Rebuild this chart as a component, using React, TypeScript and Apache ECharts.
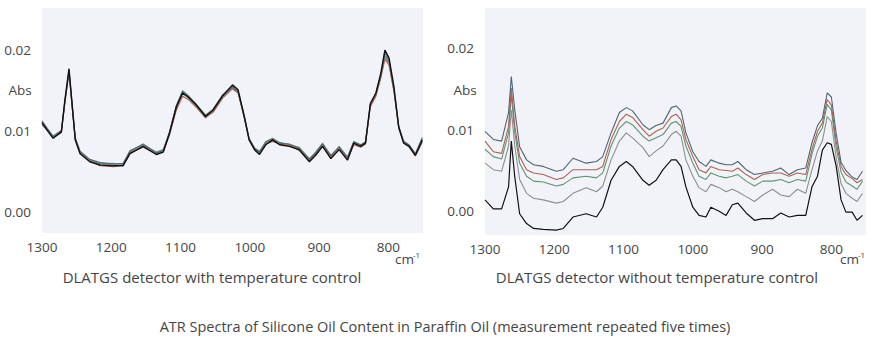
import React, { useEffect, useRef } from "react";
import * as echarts from "echarts";

// ---- Tick labels ----
const xTicks = [1300, 1200, 1100, 1000, 900, 800];
const yTicks = [0, 0.01, 0.02];

// ---- Left chart: with temperature control ----
const wnL = [1300,1284,1272,1267,1261,1257,1252,1245,1231,1216,1197,1183,1173,1154,1135,1125,1116,1106,1097,1089,1077,1064,1053,1039,1025,1017,1008,1001,993,986,977,967,957,943,929,914,905,895,883,871,859,850,840,833,826,818,811,805,799,792,785,778,770,761,751];
const slateL = [0.0112,0.0093,0.0100,0.0137,0.0175,0.0137,0.0091,0.0075,0.0065,0.0061,0.0059,0.0060,0.0075,0.0084,0.0073,0.0076,0.0099,0.0131,0.0149,0.0143,0.0131,0.0119,0.0125,0.0143,0.0155,0.0149,0.0117,0.0090,0.0078,0.0074,0.0086,0.0090,0.0085,0.0084,0.0079,0.0065,0.0073,0.0084,0.0070,0.0080,0.0068,0.0087,0.0083,0.0086,0.0133,0.0146,0.0169,0.0196,0.0187,0.0152,0.0104,0.0087,0.0083,0.0072,0.0092];
const redL = [0.0108,0.0092,0.0098,0.0134,0.0172,0.0134,0.0090,0.0073,0.0063,0.0057,0.0056,0.0058,0.0073,0.0080,0.0072,0.0074,0.0095,0.0126,0.0143,0.0139,0.0129,0.0117,0.0123,0.0141,0.0152,0.0147,0.0116,0.0090,0.0078,0.0073,0.0084,0.0087,0.0084,0.0082,0.0078,0.0064,0.0071,0.0082,0.0068,0.0079,0.0066,0.0083,0.0080,0.0084,0.0130,0.0143,0.0165,0.0189,0.0181,0.0149,0.0103,0.0086,0.0080,0.0069,0.0086];
const greenL = [0.0111,0.0094,0.0101,0.0136,0.0174,0.0136,0.0092,0.0074,0.0064,0.0060,0.0060,0.0059,0.0076,0.0083,0.0074,0.0077,0.0098,0.0132,0.0150,0.0144,0.0133,0.0120,0.0127,0.0145,0.0154,0.0148,0.0119,0.0091,0.0079,0.0075,0.0087,0.0091,0.0086,0.0083,0.0080,0.0066,0.0074,0.0085,0.0069,0.0081,0.0067,0.0086,0.0082,0.0087,0.0132,0.0145,0.0168,0.0193,0.0185,0.0151,0.0106,0.0088,0.0082,0.0071,0.0090];
const grayL = [0.0113,0.0092,0.0100,0.0136,0.0173,0.0135,0.0090,0.0073,0.0064,0.0060,0.0058,0.0058,0.0074,0.0082,0.0072,0.0075,0.0097,0.0129,0.0146,0.0141,0.0130,0.0116,0.0124,0.0142,0.0153,0.0148,0.0118,0.0089,0.0076,0.0072,0.0085,0.0088,0.0084,0.0082,0.0076,0.0063,0.0072,0.0083,0.0067,0.0078,0.0065,0.0084,0.0082,0.0085,0.0131,0.0144,0.0167,0.0191,0.0183,0.0150,0.0104,0.0086,0.0081,0.0070,0.0088];
const blackL = [0.0110,0.0091,0.0099,0.0138,0.0177,0.0138,0.0089,0.0072,0.0062,0.0058,0.0057,0.0057,0.0072,0.0081,0.0071,0.0074,0.0097,0.0130,0.0147,0.0142,0.0132,0.0118,0.0126,0.0144,0.0157,0.0151,0.0118,0.0089,0.0077,0.0071,0.0083,0.0089,0.0083,0.0081,0.0077,0.0062,0.0070,0.0081,0.0066,0.0077,0.0064,0.0085,0.0081,0.0085,0.0134,0.0147,0.0171,0.0200,0.0190,0.0155,0.0105,0.0085,0.0081,0.0070,0.0089];

// ---- Right chart: without temperature control ----
const wnR = [1300,1288,1276,1266,1262,1257,1250,1240,1230,1216,1197,1187,1173,1154,1139,1130,1118,1106,1096,1087,1072,1063,1053,1043,1031,1024,1017,1010,1000,991,981,974,962,952,943,935,923,911,899,885,873,861,849,837,828,820,813,806,800,793,786,779,770,763,755];
const slateR = [0.0098,0.0088,0.0086,0.0121,0.0165,0.0124,0.0079,0.0063,0.0057,0.0055,0.0049,0.0051,0.0065,0.0059,0.0061,0.0067,0.0096,0.0121,0.0127,0.0123,0.0106,0.0100,0.0105,0.0108,0.0127,0.0129,0.0123,0.0096,0.0073,0.0061,0.0055,0.0063,0.0059,0.0057,0.0057,0.0061,0.0051,0.0045,0.0047,0.0049,0.0053,0.0045,0.0051,0.0053,0.0084,0.0105,0.0114,0.0145,0.0140,0.0095,0.0060,0.0050,0.0042,0.0039,0.0049];
const redR = [0.0086,0.0073,0.0071,0.0104,0.0151,0.0104,0.0067,0.0051,0.0047,0.0045,0.0039,0.0041,0.0051,0.0051,0.0051,0.0055,0.0088,0.0110,0.0119,0.0115,0.0100,0.0092,0.0098,0.0102,0.0116,0.0119,0.0112,0.0088,0.0067,0.0051,0.0047,0.0055,0.0051,0.0050,0.0049,0.0053,0.0045,0.0039,0.0045,0.0047,0.0047,0.0043,0.0047,0.0045,0.0076,0.0098,0.0108,0.0137,0.0130,0.0085,0.0055,0.0045,0.0040,0.0035,0.0039];
const greenR = [0.0076,0.0067,0.0064,0.0096,0.0143,0.0096,0.0059,0.0043,0.0037,0.0036,0.0031,0.0033,0.0041,0.0043,0.0041,0.0047,0.0080,0.0102,0.0110,0.0106,0.0092,0.0086,0.0090,0.0094,0.0108,0.0110,0.0104,0.0080,0.0059,0.0043,0.0039,0.0047,0.0043,0.0041,0.0043,0.0045,0.0037,0.0031,0.0037,0.0037,0.0039,0.0035,0.0039,0.0037,0.0070,0.0092,0.0102,0.0131,0.0124,0.0078,0.0048,0.0036,0.0031,0.0027,0.0037];
const grayR = [0.0059,0.0051,0.0049,0.0080,0.0124,0.0080,0.0039,0.0022,0.0016,0.0014,0.0010,0.0012,0.0022,0.0029,0.0024,0.0031,0.0063,0.0086,0.0096,0.0090,0.0078,0.0067,0.0074,0.0080,0.0094,0.0098,0.0092,0.0063,0.0043,0.0029,0.0024,0.0033,0.0029,0.0024,0.0027,0.0024,0.0018,0.0012,0.0020,0.0027,0.0020,0.0018,0.0027,0.0022,0.0051,0.0074,0.0086,0.0116,0.0110,0.0065,0.0034,0.0022,0.0016,0.0012,0.0022];
const blackR = [0.0014,0.0003,0.0003,0.0030,0.0086,0.0042,-0.0003,-0.0015,-0.0021,-0.0022,-0.0023,-0.0021,-0.0007,-0.0003,-0.0007,0.0005,0.0038,0.0055,0.0061,0.0055,0.0038,0.0032,0.0038,0.0051,0.0063,0.0063,0.0055,0.0030,0.0005,-0.0005,-0.0007,0.0005,0.0000,-0.0005,0.0008,0.0010,-0.0002,-0.0011,-0.0009,-0.0009,-0.0002,-0.0007,-0.0005,-0.0005,0.0030,0.0043,0.0075,0.0084,0.0082,0.0055,0.0014,-0.0001,-0.0001,-0.0011,-0.0005];

const titleL = "DLATGS detector with temperature control";
const titleR = "DLATGS detector without temperature control";
const caption = "ATR Spectra of Silicone Oil Content in Paraffin Oil (measurement repeated five times)";

const COLORS = {
  gray: "#8e8e8e",
  green: "#5f9472",
  red: "#b06252",
  slate: "#4f6575",
  black: "#111111",
};

function pairs(x: number[], y: number[]) {
  return x.map((w, i) => [w, y[i]]);
}

export default function App() {
  const ref = useRef<HTMLDivElement>(null);

  useEffect(() => {
    if (!ref.current) return;
    const chart = echarts.init(ref.current, null, { renderer: "svg" });
    const font = "'Open Sans', 'Noto Sans', sans-serif";
    const textColor = "#454545";

    const xAxis = (gi: number) => ({
      type: "value",
      gridIndex: gi,
      min: 750,
      max: 1300,
      inverse: true,
      axisLine: { show: false },
      axisTick: { show: false },
      splitLine: { show: false },
      axisLabel: {
        customValues: xTicks,
        color: textColor,
        fontSize: 13.5,
        fontFamily: font,
        margin: 7,
        formatter: (v: number) => String(v),
      },
    });
    const yAxis = (gi: number, min: number, max: number) => ({
      type: "value",
      gridIndex: gi,
      min,
      max,
      axisLine: { show: false },
      axisTick: { show: false },
      splitLine: { show: false },
      axisLabel: {
        customValues: yTicks,
        color: textColor,
        fontSize: 13.5,
        fontFamily: font,
        margin: 11,
        formatter: (v: number) => v.toFixed(2),
      },
    });

    const mk = (gi: number, x: number[], y: number[], color: string, w: number) => ({
      type: "line",
      xAxisIndex: gi,
      yAxisIndex: gi,
      data: pairs(x, y),
      showSymbol: false,
      symbol: "none",
      lineStyle: { color, width: w },
      silent: true,
    });

    const txt = (x: number, y: number, text: string, size: number, align = "left") => ({
      type: "text",
      x,
      y,
      style: {
        text,
        fill: textColor,
        font: `${size}px 'Open Sans', 'Noto Sans', sans-serif`,
        textAlign: align,
        textVerticalAlign: "middle",
      },
    });

    chart.setOption({
      animation: false,
      grid: [
        { left: 42, top: 8, width: 381, height: 225, show: true, backgroundColor: "#f1f3f8", borderWidth: 0 },
        { left: 485, top: 8, width: 381, height: 227, show: true, backgroundColor: "#f1f3f8", borderWidth: 0 },
      ],
      xAxis: [xAxis(0), xAxis(1)],
      yAxis: [yAxis(0, -0.0026, 0.0252), yAxis(1, -0.0029, 0.0249)],
      series: [
        mk(0, wnL, grayL, COLORS.gray, 1.1),
        mk(0, wnL, greenL, COLORS.green, 1.1),
        mk(0, wnL, redL, COLORS.red, 1.1),
        mk(0, wnL, slateL, COLORS.slate, 1.1),
        mk(0, wnL, blackL, COLORS.black, 1.4),
        mk(1, wnR, blackR, COLORS.black, 1.2),
        mk(1, wnR, grayR, COLORS.gray, 1.1),
        mk(1, wnR, greenR, COLORS.green, 1.1),
        mk(1, wnR, redR, COLORS.red, 1.1),
        mk(1, wnR, slateR, COLORS.slate, 1.1),
      ],
      graphic: [
        txt(20, 90, "Abs", 13.5, "center"),
        txt(465, 90, "Abs", 13.5, "center"),
        txt(395, 259, "cm", 13.5),
        txt(413, 254, "-1", 8),
        txt(840, 259, "cm", 13.5),
        txt(858, 254, "-1", 8),
        txt(212, 277, titleL, 15, "center"),
        txt(657, 277, titleR, 15, "center"),
        txt(445, 326, caption, 14.5, "center"),
      ],
    });

    return () => chart.dispose();
  }, []);

  return (
    <div
      ref={ref}
      style={{ position: "fixed", left: 0, top: 0, width: 873, height: 357, background: "#ffffff" }}
    />
  );
}
